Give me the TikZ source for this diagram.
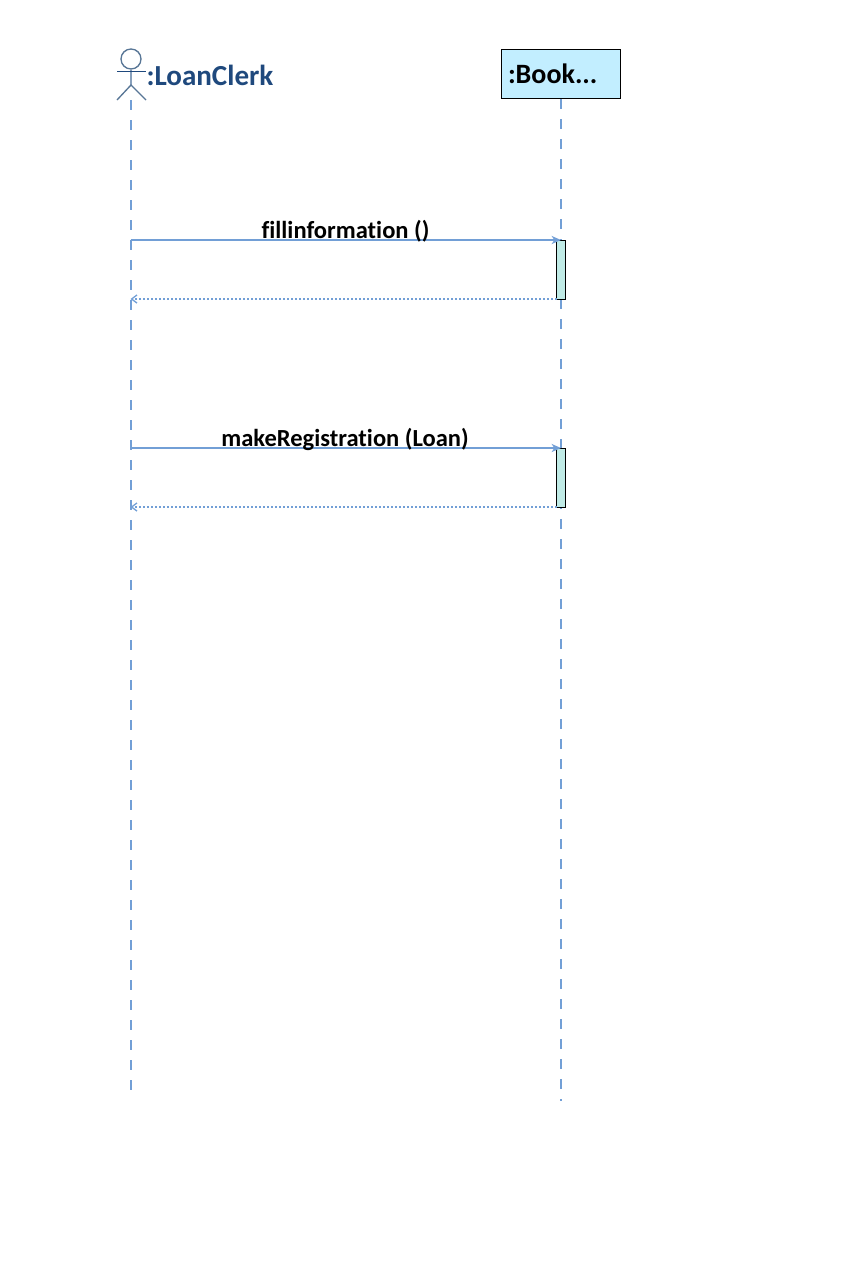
\documentclass[tikz,border=0pt]{standalone}
\usepackage{fontspec}
\setmainfont{Carlito}[Ligatures=NoCommon]
\usetikzlibrary{arrows.meta}
\definecolor{lifeblue}{RGB}{114,159,214}
\definecolor{actorblue}{RGB}{88,118,150}
\definecolor{limbblue}{RGB}{136,160,188}
\definecolor{clerkblue}{RGB}{31,73,125}
\definecolor{boxblue}{RGB}{194,238,255}
\definecolor{actgreen}{RGB}{192,235,230}
\tikzset{every picture/.style={line width=0.75pt}}
\tikzset{
  lifeline/.style={draw=lifeblue,line width=1.5pt,dash pattern=on 7.5pt off 7.5pt},
  callmsg/.style={draw=lifeblue,line width=1.7pt,-{Stealth[length=7pt,width=6pt,inset=2pt]}},
  replymsg/.style={draw=lifeblue,line width=1.7pt,dash pattern=on 1.5pt off 1.5pt,-{Straight Barb[length=4pt,width=6pt,line width=1pt]}},
  actbar/.style={draw=black,line width=0.75pt,fill=actgreen,minimum width=6.75pt,minimum height=44.25pt,inner sep=0pt,outer sep=0pt,anchor=north},
  msglabel/.style={font=\fontsize{18.4}{20}\selectfont\bfseries,inner sep=0pt,text=black}
}

\begin{document}
\begin{tikzpicture}[x=0.75pt,y=0.75pt,yscale=-1,xscale=1]
\useasboundingbox (0,0) rectangle (851,1264);

%Lifelines
\coordinate (clerkTop) at (130.5,100);
\coordinate (clerkEnd) at (130.5,1091);
\coordinate (bookEnd) at (561,1101);
\draw (561,74) node [draw=black,fill=boxblue,line width=0.75pt,minimum width=89.25pt,minimum height=36.75pt,inner sep=0pt] (bookBox) {};
\draw [lifeline] (clerkTop) -- (clerkEnd);
\draw [lifeline] (bookBox.south) -- (bookEnd);

%Actor
\draw (131,59) node [circle,draw=actorblue,fill=white,line width=1pt,minimum size=15pt,inner sep=0pt] (clerkHead) {};
\coordinate (clerkHip) at (131,85);
\coordinate (clerkArmL) at (117,71);
\coordinate (clerkArmR) at (146,71);
\coordinate (clerkFootL) at (117,100);
\coordinate (clerkFootR) at (146,100);
\draw [draw=limbblue,line width=1.5pt] (clerkHead) -- (clerkHip);
\draw [draw=clerkblue,line width=0.75pt] (clerkArmL) -- (clerkArmR);
\draw [draw=actorblue,line width=1pt] (clerkFootL) -- (clerkHip) -- (clerkFootR);

%Activation bars
\draw (561,240) node [actbar] (fillBar) {};
\draw (561,448) node [actbar] (makeBar) {};

%Messages
\draw [callmsg] (clerkTop |- fillBar.north) -- (fillBar.north);
\draw [replymsg] (fillBar.south west) -- (clerkTop |- fillBar.south);
\draw [callmsg] (clerkTop |- makeBar.north) -- (makeBar.north);
\draw [replymsg] (makeBar.south west) -- (clerkTop |- makeBar.south);

% Text Node
\draw (146,75) node [anchor=west,inner sep=0pt,font=\fontsize{21.8}{24}\selectfont\bfseries,text=clerkblue] (clerkLabel) {:LoanClerk};
% Text Node
\draw (507.5,74) node [anchor=west,inner sep=0pt,font=\fontsize{21}{24}\selectfont\bfseries,text=black] (bookLabel) {:Book...};
% Text Node
\draw (345.5,231) node [msglabel] (fillLabel) {fillinformation ()};
% Text Node
\draw (345,439.5) node [msglabel] (makeLabel) {makeRegistration (Loan)};

\end{tikzpicture}
\end{document}
